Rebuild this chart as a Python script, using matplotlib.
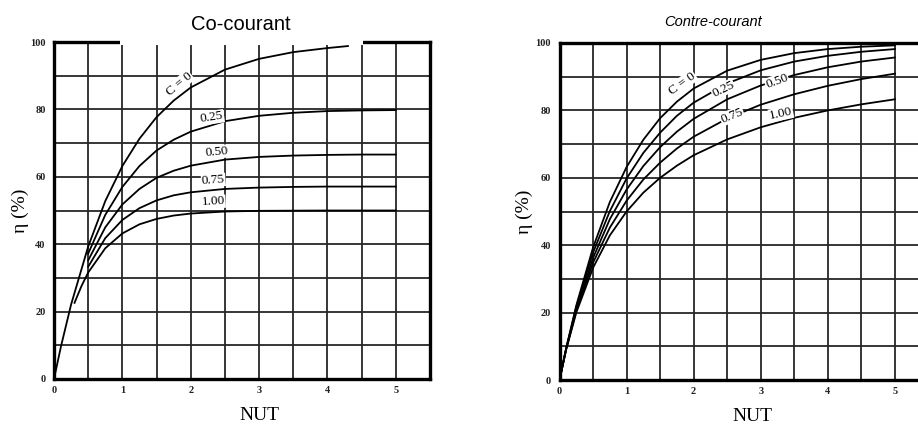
import matplotlib
matplotlib.use("Agg")
import matplotlib.pyplot as plt
from matplotlib.patches import Rectangle


# =========================
# DATA
# =========================
# Co-courant : efficiency (%) vs NUT for each capacity ratio C
co_nut_c0 = [0, 0.1, 0.25, 0.5, 0.75, 1.0, 1.25, 1.5, 1.75, 2.0, 2.5, 3.0, 3.5, 4.0, 4.3]
co_eta_c0 = [0, 9.5, 22.1, 39.3, 52.8, 63.2, 71.3, 77.7, 82.6, 86.5, 91.8, 95.0, 97.0, 98.2, 98.8]

co_nut_mid = [0.5, 0.75, 1.0, 1.25, 1.5, 1.75, 2.0, 2.5, 3.0, 3.5, 4.0, 4.5, 5.0]
co_eta_c025 = [37.2, 48.7, 57.0, 63.2, 67.8, 71.0, 73.4, 76.5, 78.1, 79.0, 79.5, 79.7, 79.8]
co_eta_c050 = [35.2, 45.0, 51.8, 56.4, 59.7, 61.8, 63.3, 65.1, 65.9, 66.3, 66.5, 66.6, 66.6]
co_eta_c075 = [33.3, 41.8, 47.2, 50.7, 53.0, 54.5, 55.4, 56.4, 56.8, 57.0, 57.1, 57.1, 57.1]

co_nut_c1 = [0.3, 0.4, 0.5, 0.75, 1.0, 1.25, 1.5, 1.75, 2.0, 2.5, 3.0, 4.0, 5.0]
co_eta_c1 = [22.6, 27.5, 31.6, 38.8, 43.2, 45.9, 47.5, 48.5, 49.1, 49.7, 49.9, 50.0, 50.0]

# Contre-courant
cc_nut = [0, 0.1, 0.25, 0.5, 0.75, 1.0, 1.25, 1.5, 1.75, 2.0, 2.5, 3.0, 3.5, 4.0, 4.5, 5.0]
cc_eta_c0 = [0, 9.5, 22.1, 39.3, 52.8, 63.2, 71.3, 77.7, 82.6, 86.5, 91.8, 95.0, 97.0, 98.2, 98.9, 99.3]
cc_eta_c025 = [0, 9.4, 21.6, 37.8, 50.1, 59.8, 67.4, 73.4, 78.4, 82.3, 88.0, 91.9, 94.5, 96.2, 97.4, 98.2]
cc_eta_c050 = [0, 9.3, 21.0, 36.2, 47.7, 56.5, 63.5, 69.1, 73.7, 77.5, 83.3, 87.4, 90.5, 92.8, 94.5, 95.7]
cc_eta_c075 = [0, 9.2, 20.5, 34.8, 45.2, 53.2, 59.5, 64.5, 68.7, 72.2, 77.6, 81.7, 84.8, 87.3, 89.3, 90.9]
cc_eta_c1 = [0, 9.1, 20.0, 33.3, 42.9, 50.0, 55.6, 60.0, 63.6, 66.7, 71.4, 75.0, 77.8, 80.0, 81.8, 83.3]

# curve labels: text, NUT, eta, rotation
co_labels = [("C = 0", 1.83, 87.5, 40), ("0.25", 2.31, 77.6, 9), ("0.50", 2.38, 67.4, 5),
             ("0.75", 2.33, 59.0, 4), ("1.00", 2.33, 52.6, 3)]
cc_labels = [("C = 0", 1.83, 88.0, 36), ("0.25", 2.44, 86.3, 26), ("0.50", 3.24, 88.6, 20),
             ("0.75", 2.57, 78.4, 22), ("1.00", 3.30, 79.0, 12)]

x_ticks = [0, 1, 2, 3, 4, 5]
y_ticks = [0, 20, 40, 60, 80, 100]

SERIF = "Liberation Serif"
SANS = "Liberation Sans"


def style_axes(ax, label_x, label_y, nut_x):
    """
    Grid paper look: thick frame, dense grid, small serif tick labels.
    """
    ax.set_xlim(0, 5.5)
    ax.set_ylim(0, 100)
    ax.set_xticks(x_ticks)
    ax.set_yticks(y_ticks)
    ax.set_xticks([i * 0.5 for i in range(1, 11)], minor=True)
    ax.set_yticks([i * 10 for i in range(1, 10)], minor=True)
    ax.grid(which="both", color="#262626", lw=1.3)
    ax.set_axisbelow(True)
    ax.tick_params(which="both", length=0)
    ax.tick_params(axis="y", pad=6)
    ax.tick_params(axis="x", pad=5)
    for lab in ax.get_xticklabels() + ax.get_yticklabels():
        lab.set_fontfamily(SERIF)
        lab.set_fontsize(7.5)
        lab.set_fontweight("bold")
        lab.set_color("#222222")
    for sp in ax.spines.values():
        sp.set_linewidth(2.4)
        sp.set_color("black")
    ax.set_ylabel("η (%)", fontfamily=SERIF, fontsize=14)
    ax.set_xlabel("NUT", fontfamily=SERIF, fontsize=14)
    ax.yaxis.set_label_coords(label_x, 0.5)
    ax.xaxis.set_label_coords(nut_x, label_y)


def put_labels(ax, labels):
    for txt, x, y, rot in labels:
        ax.text(x, y, txt, fontfamily=SERIF, fontsize=9.5,
                rotation=rot, ha="center", va="center", rotation_mode="anchor",
                bbox=dict(facecolor="white", edgecolor="none", pad=0.5), zorder=5)


fig = plt.figure(figsize=(9.18, 4.24), dpi=100)

# =========================
# CO-COURANT
# =========================
ax1 = fig.add_axes([54 / 918, 45 / 424, 376 / 918, 337 / 424])
style_axes(ax1, -0.066, -0.082, 0.545)
ax1.plot(co_nut_c0, co_eta_c0, color="black", lw=1.3)
ax1.plot(co_nut_mid, co_eta_c025, color="black", lw=1.3)
ax1.plot(co_nut_mid, co_eta_c050, color="black", lw=1.3)
ax1.plot(co_nut_mid, co_eta_c075, color="black", lw=1.3)
ax1.plot(co_nut_c1, co_eta_c1, color="black", lw=1.3)
put_labels(ax1, co_labels)

# white patch behind the title hides part of the top frame
fig.patches.append(Rectangle((120 / 918, (424 - 45) / 424), 243 / 918, 45 / 424,
                             transform=fig.transFigure, facecolor="white",
                             edgecolor="none", zorder=10))
fig.text(241 / 918, 1 - 24 / 424, "Co-courant", fontfamily=SANS, fontsize=14.5,
         ha="center", va="center", zorder=11)

# =========================
# CONTRE-COURANT
# =========================
ax2 = fig.add_axes([559.5 / 918, 44 / 424, 369 / 918, 337 / 424])
style_axes(ax2, -0.072, -0.082, 0.524)
for eta in [cc_eta_c0, cc_eta_c025, cc_eta_c050, cc_eta_c075, cc_eta_c1]:
    ax2.plot(cc_nut, eta, color="black", lw=1.3)
put_labels(ax2, cc_labels)
fig.text(713 / 918, 1 - 22 / 424, "Contre-courant", fontfamily=SANS, fontsize=10.5,
         fontstyle="italic", ha="center", va="center")

fig.savefig("out.png", dpi=100)
